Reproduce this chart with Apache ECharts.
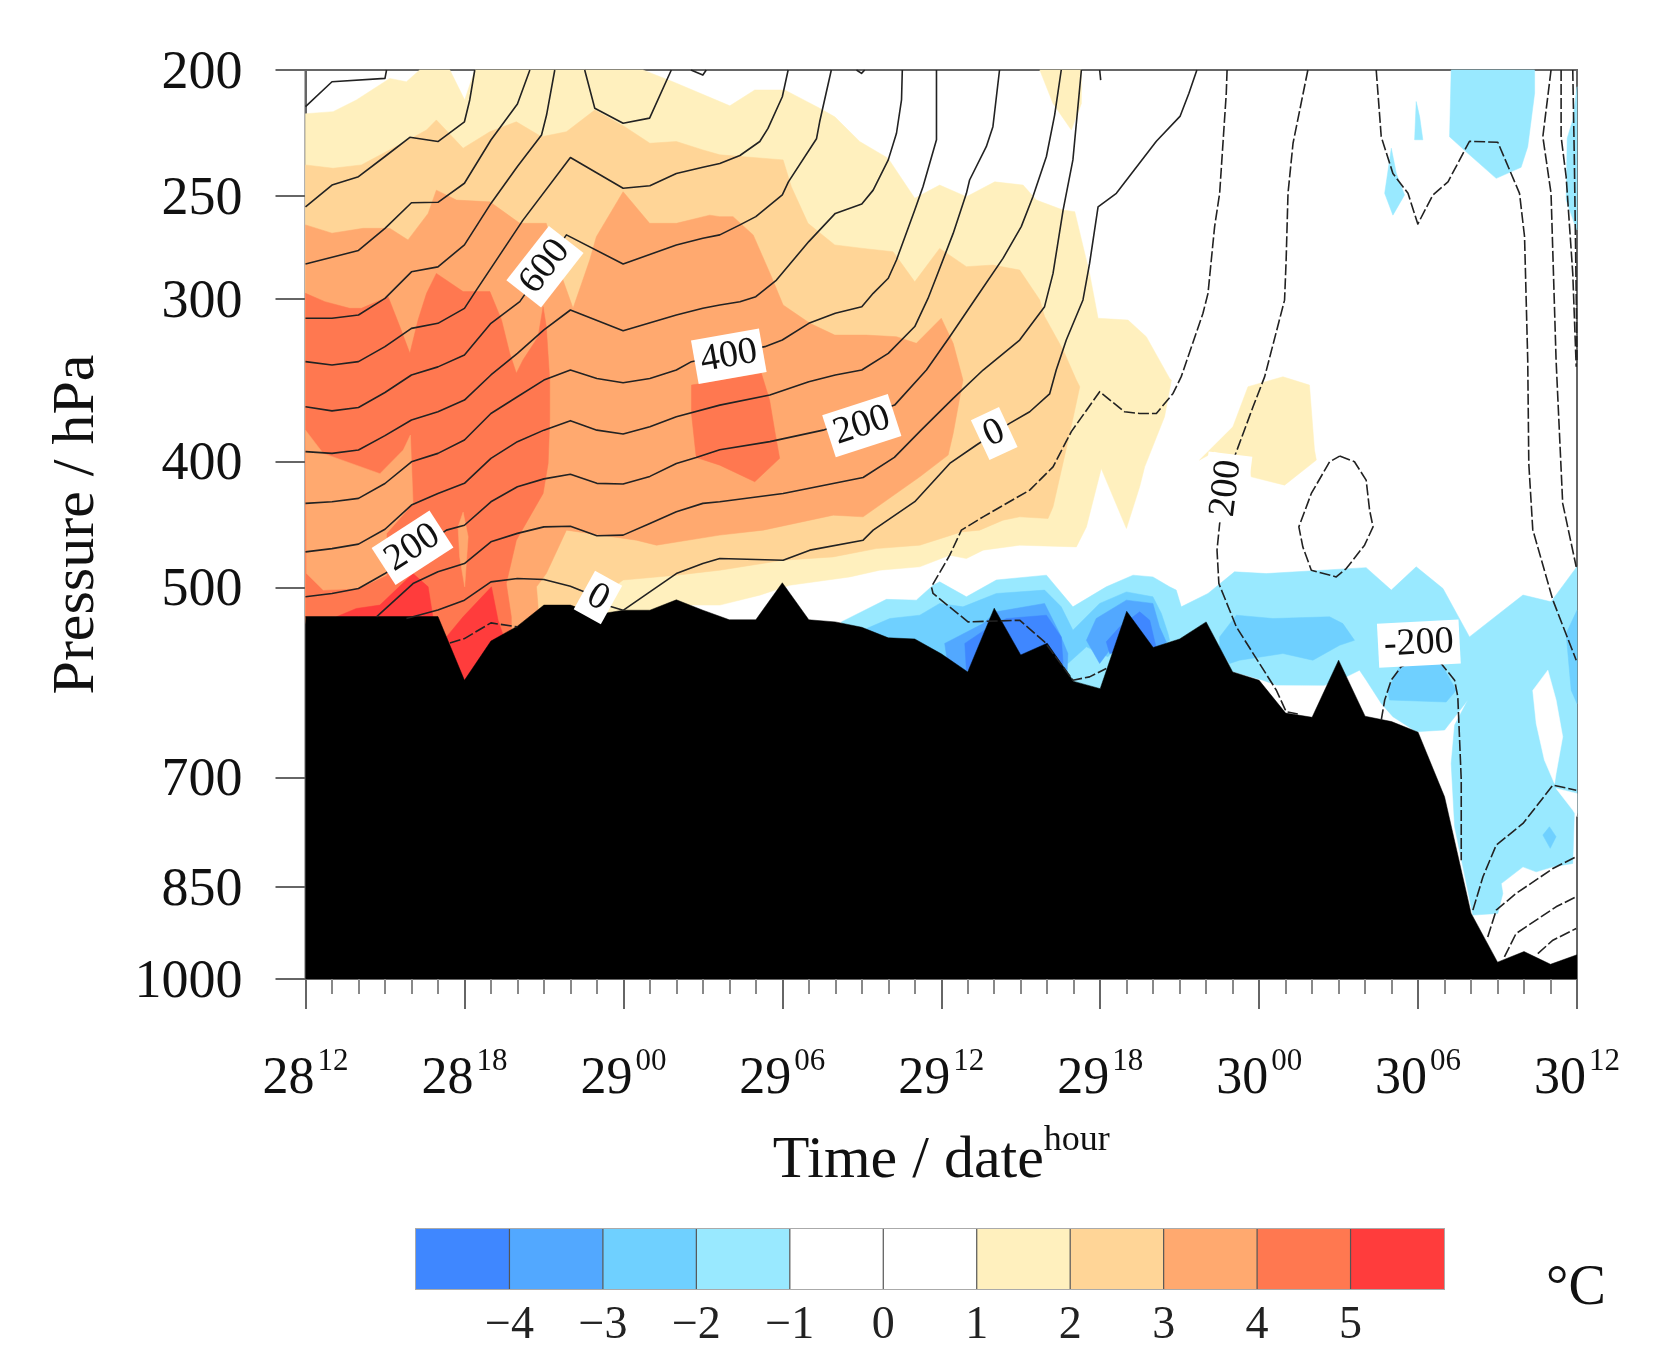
<!DOCTYPE html>
<html>
<head>
<meta charset="utf-8">
<script src="https://cdn.jsdelivr.net/npm/echarts@6/dist/echarts.min.js"></script>
<style>html,body{margin:0;padding:0;background:#fff}#c{width:1662px;height:1360px}</style>
</head>
<body>
<div id="c"></div>
<script>
// ---------- axes ----------
const pressureTicks = [200,250,300,400,500,700,850,1000];
const timeTickLabels = [['28','12'],['28','18'],['29','00'],['29','06'],['29','12'],['29','18'],['30','00'],['30','06'],['30','12']];
// ---------- colour bar ----------
const barLevels = [-5,-4,-3,-2,-1,0,1,2,3,4,5,6];
const barColors = ['#3F87FF','#52A8FF','#6FD0FF','#99E9FF','#FFFFFF','#FFFFFF','#FFF0BE','#FFD597','#FFA96F','#FF7850','#FF3C3C'];
// ---------- terrain: surface pressure at each hour from 28 12h ----------
const terrainHPa = [526.4,526.4,526.4,526.4,526.4,526.4,589.3,549.7,535.4,515.8,515.8,524.5,520.5,520.5,511,520.5,529.4,529.4,495.8,529.4,531.4,536.5,546.6,547.7,562.3,580.6,518.6,563.4,551.8,590.4,598.1,521.5,556,547.7,531.4,580.6,589.3,624.5,629.2,568.6,628,634,646,724.3,890,970.6,952.6,974.3,958];

// ---------- temperature anomaly regions, [hour, hPa] ----------
const warm1 = [[[0,216.1],[1.04,215.3],[1.92,210.9],[3.18,203],[3.81,204.2],[4.31,200],[5.45,200],[6.01,210.9],[6.39,200],[12.74,200],[13.87,204.2],[15.64,211.5],[16.02,213.1],[16.96,207.2],[18.09,207.2],[19.41,214],[19.98,217.3],[20.92,227],[21.99,233.8],[23,251],[23.94,245.2],[24.95,250.3],[26.02,243.8],[27.09,245.2],[27.59,251.8],[28.6,256.3],[29.04,257],[29.6,286.7],[29.92,310.4],[31.05,311.4],[31.74,320.7],[32.62,345.3],[32.69,346.3],[32.43,369.5],[31.68,403.8],[31.49,418.3],[30.99,450.4],[30.04,405],[29.48,449.1],[29.1,465.3],[26.96,463.9],[25.58,468],[24.95,475],[24.32,472.2],[23.19,482],[21.68,484.9],[20.55,490.7],[18.28,498],[17.15,506.8],[15.64,515.8],[14.38,515.8],[14.4,560],[0.5,640],[0,526]],
 [[27.72,200],[28.22,212.2],[28.91,222.4],[29.29,212.2],[29.29,200]],
 [[33.75,399],[35.01,376.2],[35.58,350.4],[36.9,344.3],[37.9,349.4],[38.09,392],[38.16,399],[36.96,417.1],[35.7,411],[35.64,401.4],[34.32,393.1]]];
const warm2 = [[[0,236.6],[1.04,238],[2.11,236.6],[4,225.7],[4.57,222.4],[4.94,218.5],[5.95,229.7],[6.96,223.1],[7.96,219.2],[8.91,225.1],[9.85,223.1],[10.92,214.7],[12.05,221.1],[13,227.7],[14,227],[15,230.4],[15.64,232.4],[18.03,234.5],[18.34,245.9],[18.97,262.4],[19.98,272.6],[21.05,274.3],[22.18,275.9],[23,291],[23.94,274.3],[24.95,283.3],[25.95,282.5],[26.96,285],[27.72,300.5],[27.9,309.4],[28.6,328.3],[29.1,346.3],[29.23,350.4],[28.85,380.6],[28.22,433.4],[28.03,442.5],[26.96,441.2],[26.33,443.8],[25.45,451.7],[24.76,453.1],[23.19,463.9],[21.55,466.7],[19.92,473.6],[18.03,476.4],[15.64,484.9],[14,489.2],[11.99,493.4],[11.48,502.3],[11.36,523.6],[11.4,570],[0.5,640],[0,526]]];
const warm3 = [[[0,263.1],[1,267],[2.18,264.7],[3.18,264.7],[3.87,270.2],[4.63,257.8],[4.94,247.4],[5.7,251.8],[6.96,252.6],[8.09,262.4],[9.09,262.4],[9.72,290.1],[10.1,305],[10.73,280],[10.98,268.7],[11.99,248.1],[12.99,262.4],[14,262.4],[15.26,258.6],[15.64,259.3],[16.14,259.3],[16.9,267.8],[17.59,288.4],[18.03,303.2],[19.04,313.2],[19.98,319.8],[21.17,319.8],[22.31,320.7],[23.06,324.5],[24,310.4],[24.45,324.5],[24.82,346.3],[24.45,380.6],[24.26,395.5],[23.19,411],[21.05,441.2],[19.92,439.9],[17.28,451.7],[15.64,455.7],[13.25,463.9],[12.49,459.8],[9.85,451.7],[9.09,487.8],[8.72,499.4],[8.78,517.4],[8.8,570],[0.5,640],[0,526]]];
const warm4 = [[[0,297],[0.73,301.4],[1.67,305],[2.11,305],[3.12,298.8],[3.56,315],[3.94,330.3],[4.25,311.3],[4.57,297],[4.94,286.7],[5.95,296.1],[6.96,296.1],[7.4,311.3],[7.71,330.3],[7.96,342.1],[8.21,334.2],[8.78,320.7],[8.97,304.1],[9.09,315],[9.22,346.3],[9.22,371.7],[9.16,401.4],[8.97,423.3],[7.96,459.8],[7.58,496.5],[7.77,526.6],[7.8,580],[0.5,640],[0,526]],
 [[14.57,349.4],[17.21,342.2],[17.52,358.8],[17.71,378.4],[17.9,397.8],[16.96,414.6],[15.64,402.6],[14.75,397.2],[14.57,367.4]]];
const warm3Inner = [[[0,378.4],[0.67,394.3],[2.81,408.7],[3.69,392],[3.96,381.7],[4.06,430.8],[3.06,454.3],[3.06,489.2],[2,500.9],[0.67,502.3],[0.04,487.8]],
 [[5.76,449.1],[5.95,437.5],[6.14,457],[6.01,499.4],[5.82,473.6]]];
const warm5 = [[[1.17,526.6],[1.92,518.9],[2.81,515.8],[4.06,487.8],[4.63,499.4],[4.82,528.2],[4.82,545],[1.17,545]],
 [[5.32,545.7],[5.95,526.6],[7.02,499.4],[7.27,529.8],[7.46,544.1],[6.96,552],[6.01,592],[5.45,554]]];
const cold1 = [[[20.23,531.4],[21.93,510.6],[23.06,511.3],[23.69,498],[23.94,495],[24.95,508.3],[26.08,493.4],[27.97,489.2],[28.97,517.4],[30.23,499.4],[31.24,489.2],[31.99,490.7],[32.62,499.4],[32.87,502.3],[33.06,517.4],[34.07,505.3],[35.07,486.3],[36.27,487.8],[40.04,482.7],[40.99,502.3],[41.93,482],[42.94,500.9],[43.94,545.7],[45.96,506.7],[47.02,512.8],[47.9,484.9],[48,482],[48,745.9],[47.9,745.9],[47.84,815],[47.09,819.9],[46.46,827.2],[45.96,819.9],[45.14,844.6],[45.2,859.5],[45.01,890.4],[44.07,893],[43.38,763.7],[43.25,682.7],[43.38,637.9],[43.88,610.2],[43,643.5],[41.93,645.4],[41.05,628.5],[40.61,613.9],[40.04,589],[39.79,578.8],[39.29,585.7],[38.47,594.5],[36.65,594.3],[36.14,589.2],[35.01,580.4],[34,640],[21,650]],
 [[43.25,200],[43.19,225.1],[43.88,231.8],[44.95,242.3],[45.89,237.6],[46.14,229.1],[46.4,208.4],[46.4,200]],
 [[41.93,211.5],[41.87,226.3],[42.18,226.3],[42.06,217.3]],
 [[40.99,229.7],[40.74,248.8],[41.05,258.6],[41.49,249.5],[41.18,240.2]],
 [[47.63,225.7],[47.84,218.5],[48,206],[48,265.5],[47.9,262.4],[47.59,251.8]]];
const neutralHoles = [[[46.33,600],[46.9,578.8],[47.21,610.2],[47.46,651.2],[47.21,695],[47.15,707.4],[46.77,678.6],[46.46,636]],
 [[47.21,713.6],[48,720],[48,750.3],[47.84,741.5]]];
const cold2 = [[[21.18,537.7],[22.06,528.2],[23.19,525.1],[23.94,514.3],[24.82,517.4],[26.08,505.3],[27.9,502.3],[28.53,517.4],[28.97,539.3],[29.98,514.3],[30.99,503.9],[31.99,508.3],[32.31,523.6],[32.56,542.5],[32.62,549],[32.12,558.7],[30.99,545.7],[30.29,565.3],[29.48,555.4],[28.78,572],[28.03,562],[24.95,596.2],[23.19,578.8],[21.18,562]],
 [[34.51,545.7],[35.14,525.1],[36.52,528.2],[38.66,526.6],[39.16,533],[39.6,549],[39.04,553.8],[38.03,568.7],[36.9,562],[35.26,568.7],[34.89,572],[34.51,557.3]],
 [[40.86,599.7],[41.36,572],[42.87,572],[43.44,599.7],[43.06,612.4],[40.92,610.2]],
 [[47.59,542.4],[48,520.6],[48,614],[47.78,599.7]],
 [[46.71,775],[46.96,763.7],[47.21,777.2],[46.99,793.5]]];
const cold3 = [[[24.13,552],[25.58,533],[26.08,522],[27.9,514.3],[28.47,542.5],[28.78,562],[28.72,602],[26,640],[24.5,620]],
 [[29.48,549],[29.85,528.2],[30.99,511.3],[31.99,514.3],[32.24,536.3],[32.5,551],[32.12,557],[30.99,545.7],[30.36,558.6],[29.98,572]]];
const cold4 = [[[24.89,552],[25.7,538],[26.46,528.2],[27.97,525.1],[28.53,545.7],[28.6,572],[26.96,567],[24.95,578.8]],
 [[30.23,550.5],[30.73,536.3],[31.49,522],[31.87,529.8],[32.12,557],[31.11,558.6],[30.36,562]]];

// ---------- geopotential contours, [hour, hPa] ----------
const solidContours = [
 [[0,213.4],[1,204.2],[3,203],[3.06,200]],
 [[0,254.8],[1,245.2],[2,241.6],[3,233.1],[3.94,225.3],[5,227],[6,219.2],[6.2,210.9],[6.39,200]],
 [[0,282],[2,275.3],[3,264.7],[4,253],[5,252.8],[6,244.4],[7,226.4],[8,212.4],[8.47,200]],
 [[0,310.4],[1,310.4],[2,308.6],[3,299.7],[4,285.9],[5,283.4],[6,272.6],[7,253.3],[8,237.3],[8.91,224.4],[9.1,216.6],[9.41,200]],
 [[10.54,200],[10.92,214],[11.99,219.8],[12.99,217.8],[13.81,200]],
 [[14.55,200],[15,201.8],[15.13,200]],
 [[20.8,200],[20.99,201.2],[21.11,200]],
 [[29.98,200],[30.02,203.6]],
 [[0,335.2],[1,337.2],[2,335.2],[3,326.4],[4,316],[5,313.2],[6,305],[6.45,295.3],[8.21,260.9],[10,233.5],[11.99,246.6],[13,245.5],[14,240.2],[15,237.6],[15.64,236],[16.4,232.7],[17.15,227],[17.46,221.8],[18,209.7],[18.22,200]],
 [[0,363.1],[1,365.7],[2,363.5],[3,354],[4,343.2],[5,338.3],[6,331.3],[7,313.2],[8.09,301.4],[9.85,267.8],[11.99,282],[14,272.6],[15,269.4],[15.64,267.8],[16.4,263.1],[17,259.3],[18,249.5],[18.23,243.8],[19.29,225.9],[19.41,219.2],[19.85,200]],
 [[0,393.1],[1,394.3],[2,392],[3,382.1],[4,371.7],[5,366.3],[6,358.8],[7,343.2],[8,330.3],[9,316.9],[10,305.9],[11.99,317.3],[14,308.6],[15,305],[15.64,303.2],[16.4,301.5],[17,298.8],[17.78,290.1],[19,271],[20,257.8],[21,253.6],[21.43,247.4],[22,234.5],[22.31,223.7],[22.5,210.9],[22.53,200]],
 [[0,430.8],[1,429.5],[2,427],[3,415.9],[4,400.2],[5,394.3],[6,385.1],[7,367.4],[8,356.7],[9,346.3],[10,340.2],[11,345.3],[11.99,347.9],[13,345.3],[14,340.2],[14.57,335.2],[17.34,326.4],[18,322.6],[19,313.2],[20,307.7],[21,304.1],[21.43,297],[22,289.2],[22.31,280],[23,256.3],[23.31,245.9],[23.82,226.3],[23.82,200]],
 [[0,469.4],[1,466.7],[2,463],[3,451],[4,432.1],[5,423.3],[6,415.8],[7,397.8],[8,386.2],[9,378.4],[10,372.1],[11,378.4],[11.99,381],[13,376.1],[14,369.5],[15.64,362],[17.53,355.6],[19,347.3],[20,343.2],[21,340.2],[22,330.3],[23,315],[23.5,299.7],[23.82,288.4],[24.45,267.1],[24.95,248.8],[25.07,243],[25.7,229.1],[25.95,221.1],[26.2,200]],
 [[0,508.3],[1,505.3],[2,500.9],[3,487.8],[5.32,451.7],[6,447.8],[7,429.6],[8,418.3],[9,412.5],[10,409.2],[11,415.8],[11.99,416.3],[13,410.7],[14,401.4],[14.75,397.2],[15.64,391.8],[17.53,386.2],[19.54,378.4],[22.24,362],[23.44,340.2],[24.32,320.7],[25.26,300.5],[26.33,279.2],[27.02,263.9],[27.46,250.3],[27.97,233.1],[28.28,216.6],[28.53,200]],
 [[2.68,526.6],[4.06,496.5],[5,486.3],[6,479.2],[7,461.1],[8,454.3],[9,449.1],[10,448.6],[11,456.2],[11.99,455.7],[13,446.4],[14,437.3],[15,430.8],[15.64,429.5],[18.03,423.3],[21.05,411.5],[22.23,397.1],[23.24,378.4],[24.45,357.7],[25.58,340.2],[26.96,322.6],[27.9,304.1],[28.22,286.7],[28.6,256.3],[28.97,234.5],[29.29,200]],
 [[3.81,528.2],[5,520.4],[6,511.3],[7,495],[8,492.1],[9,493],[10,498.8],[10.54,503.9],[11.55,517.4],[11.99,520.6],[13,503.9],[14,487.8],[15,479.2],[15.64,475],[18.03,476.4],[19.04,468],[21.05,459.8],[21.43,451.7],[23,429.5],[24.32,401.4],[25.33,388.5],[26.58,373.9],[27.34,366.3],[28.09,354.9],[28.34,340.2],[28.72,322.6],[29.35,300.5],[29.6,281.7],[29.92,254.8],[30.61,248.8],[32.12,226.9],[33.02,217],[33.35,208.4],[33.65,200]]
];
const dashedContours = [
 [[5.45,551.6],[6,547.3],[7,532.3],[8,536.1]],
 [[34.79,200],[34.76,208.4],[34.51,248.8],[34.32,263.9],[34.07,297],[33.88,307.7],[33.06,344.2],[32.75,354.6],[32.12,367.4],[31.49,367.4],[30.92,366.3],[29.98,353.5],[28.91,379.4],[28.22,403.8],[27.34,420.8],[25.58,441.2],[24.76,451.7],[24.32,472.2],[23.63,499.4],[23.69,505.3],[24.7,525.1],[25.01,531.4],[26.96,529.8],[27.9,550.5],[28.6,575.4],[28.97,589.2],[29.6,585.7],[30.23,577.1]],
 [[37.84,200],[37.28,227.7],[37.09,248.8],[37.02,280],[36.96,300.6],[36.21,344.2],[35.77,363.1],[35.07,396.7],[34.51,446.4],[34.41,468],[34.48,496.5],[35.14,536.1],[36.65,599.7],[37.02,623],[37.46,625.5]],
 [[40.42,200],[40.61,225.1],[41.05,240.2],[41.62,248.8],[41.99,262.7],[42.56,249.5],[43.13,243.8],[43.94,226.9],[45.01,227.3],[45.83,248.8],[46.02,268.7],[46.14,334.2],[46.18,401.4],[46.33,451.3],[47.09,511.3],[47.97,568.7]],
 [[47.02,200],[46.71,225.1],[47.02,248.8],[47.21,334.2],[47.46,430.8],[47.97,482]],
 [[47.4,200],[47.4,225.1],[47.59,241.6],[47.84,286.7],[47.97,338.2]],
 [[47.84,200],[47.9,234.5],[47.97,297],[48,334.2]],
 [[39.04,396.2],[39.6,400.2],[40.04,413.4],[40.17,436],[40.3,449.1],[39.98,463.9],[39.29,483.5],[38.91,490.7],[37.97,484.9],[37.65,465.3],[37.5,449.1],[37.97,423.3],[38.66,400.2],[39.04,396.2]],
 [[40.61,632.3],[40.74,610.2],[40.99,589],[41.36,575.4],[42,567],[42.87,572],[43.38,589.2],[43.5,606.6],[43.63,703.1],[43.63,810.2]],
 [[44.07,885.2],[44.45,834.5],[44.95,788.9],[45.96,759.3],[46.46,736.9],[47.09,709.4],[47.97,715.8]],
 [[44.63,928.4],[44.95,885.2],[45.7,859.5],[47.09,822.3],[47.97,805.4]],
 [[45.26,961.6],[45.7,922.6],[47.21,880],[47.97,864.5]],
 [[46.52,955.9],[47.09,933.6],[47.97,914.4]]
];
// contour labels: hour, hPa, text, rotation
const contourLabels = [
 [9.04,283.3,'600',52],[15.98,332,'400',10],[21,375.4,'200',18],[26,380.7,'0',25],
 [4.04,466,'200',33],[11.04,509,'0',-29],[34.76,419.5,'200',83],[42.03,552.2,'-200',3]
];

const FONT = '"Liberation Serif","Times New Roman",serif';
const AXIS = '#666';

function regionSeries(polys, color, z) {
  return {
    type: 'custom', xAxisIndex: 0, yAxisIndex: 0, z, silent: true, animation: false,
    data: polys.map((p, i) => [p[0][0], p[0][1], i]),
    renderItem(params, api) {
      const poly = polys[params.dataIndex];
      return { type: 'polygon', shape: { points: poly.map(pt => api.coord(pt)) },
               style: { fill: color, stroke: color, lineWidth: 0.5 } };
    }
  };
}
function contourSeries(points, dashed) {
  return {
    type: 'line', xAxisIndex: 0, yAxisIndex: 0, z: 8, silent: true, animation: false,
    showSymbol: false, symbol: 'none', data: points,
    lineStyle: { color: '#222', width: 1.6, type: dashed ? [11, 3] : 'solid', cap: 'butt', join: 'round' }
  };
}

const series = [
  regionSeries(warm1, barColors[6], 2),
  regionSeries(warm2, barColors[7], 2),
  regionSeries(warm3, barColors[8], 2),
  regionSeries(warm4, barColors[9], 2),
  regionSeries(warm3Inner, barColors[8], 2),
  regionSeries(warm5, barColors[10], 2),
  regionSeries(cold1, barColors[3], 2),
  regionSeries(neutralHoles, '#FFFFFF', 2),
  regionSeries(cold2, barColors[2], 2),
  regionSeries(cold3, barColors[1], 2),
  regionSeries(cold4, barColors[0], 2),
  { type: 'line', xAxisIndex: 0, yAxisIndex: 0, z: 5, silent: true, animation: false, showSymbol: false, symbol: 'none',
    data: terrainHPa.map((p, h) => [h, p]),
    lineStyle: { color: '#000', width: 0.5 },
    areaStyle: { color: '#000', opacity: 1, origin: 'end' } },
  ...solidContours.map(c => contourSeries(c, false)),
  ...dashedContours.map(c => contourSeries(c, true)),
  { type: 'scatter', xAxisIndex: 0, yAxisIndex: 0, z: 9, silent: true, animation: false, symbolSize: 1,
    itemStyle: { color: 'rgba(0,0,0,0)', opacity: 1 },
    data: contourLabels.map(l => ({ value: [l[0], l[1]], label: { formatter: l[2], rotate: l[3] } })),
    label: { show: true, position: 'inside', fontFamily: FONT, fontSize: 38, color: '#111', opacity: 1,
             backgroundColor: '#fff', padding: [3, 6], align: 'center', verticalAlign: 'middle' } },
  { type: 'custom', xAxisIndex: 1, yAxisIndex: 1, z: 3, silent: true, animation: false,
    data: barColors.map((c, i) => [barLevels[i], barLevels[i + 1]]),
    renderItem(params, api) {
      const a = api.coord([api.value(0), 0]), b = api.coord([api.value(1), 1]);
      const color = barColors[params.dataIndex];
      const children = [{ type: 'rect', shape: { x: a[0], y: b[1], width: b[0] - a[0], height: a[1] - b[1] }, style: { fill: color } }];
      if (params.dataIndex > 0) children.push({ type: 'line', shape: { x1: a[0], y1: b[1], x2: a[0], y2: a[1] }, style: { stroke: '#555', lineWidth: 1.2 } });
      return { type: 'group', children };
    } }
];

const chart = echarts.init(document.getElementById('c'), null, { renderer: 'canvas' });
chart.setOption({
  animation: false,
  backgroundColor: '#fff',
  grid: [
    { left: 305.5, right: 85, top: 70, height: 909, show: true, borderColor: AXIS, borderWidth: 2, backgroundColor: 'transparent', containLabel: false },
    { left: 416, width: 1028, top: 1229, height: 60, show: true, borderColor: '#aaa', borderWidth: 2, containLabel: false }
  ],
  xAxis: [
    { gridIndex: 0, type: 'value', min: 0, max: 48, interval: 6,
      axisLine: { show: true, lineStyle: { color: AXIS, width: 2 } },
      axisTick: { show: true, length: 30, lineStyle: { color: AXIS, width: 2 } },
      minorTick: { show: true, splitNumber: 6, length: 15, lineStyle: { color: '#888', width: 2 } },
      splitLine: { show: false },
      axisLabel: { margin: 67, interval: 0, showMinLabel: true, showMaxLabel: true, hideOverlap: false,
        formatter: v => { const t = timeTickLabels[Math.round(v / 6)]; return '{d|' + t[0] + '}{h|' + t[1] + '}'; },
        rich: { d: { fontFamily: FONT, fontSize: 52, color: '#111', lineHeight: 66 },
                h: { fontFamily: FONT, fontSize: 31, color: '#111', verticalAlign: 'top', lineHeight: 30, padding: [0, 0, 0, 3] } } },
      name: '{a|Time / date}{b|hour}', nameLocation: 'middle', nameGap: 144,
      nameTextStyle: { rich: { a: { fontFamily: FONT, fontSize: 60, color: '#111', lineHeight: 76 },
                               b: { fontFamily: FONT, fontSize: 36, color: '#111', verticalAlign: 'top', lineHeight: 34 } } } },
    { gridIndex: 1, type: 'value', min: -5, max: 6, interval: 1,
      axisLine: { show: false }, axisTick: { show: false }, splitLine: { show: false },
      axisLabel: { margin: 14, fontFamily: FONT, fontSize: 46, color: '#222',
        formatter: v => (v <= -5 || v >= 6) ? '' : (v < 0 ? '\u2212' + (-v) : '' + v) } }
  ],
  yAxis: [
    { gridIndex: 0, type: 'log', logBase: 10, min: 200, max: 1000, inverse: true,
      axisLine: { show: true, lineStyle: { color: AXIS, width: 2 } },
      axisTick: { show: true, length: 30, customValues: pressureTicks, lineStyle: { color: AXIS, width: 2 } },
      minorTick: { show: false }, splitLine: { show: false }, minorSplitLine: { show: false },
      axisLabel: { margin: 63, customValues: pressureTicks, formatter: v => '{t|' + Math.round(v) + '}',
        rich: { t: { fontFamily: FONT, fontSize: 54, color: '#111', padding: [7, 0, 0, 0] } } },
      name: 'Pressure / hPa', nameLocation: 'middle', nameGap: 198,
      nameTextStyle: { fontFamily: FONT, fontSize: 60, color: '#111' } },
    { gridIndex: 1, type: 'value', min: 0, max: 1, show: false }
  ],
  graphic: [{ type: 'text', left: 1546, top: 1261, style: { text: '\u00B0C', font: '56px ' + FONT, fill: '#111' } }],
  series
});
</script>
</body>
</html>
